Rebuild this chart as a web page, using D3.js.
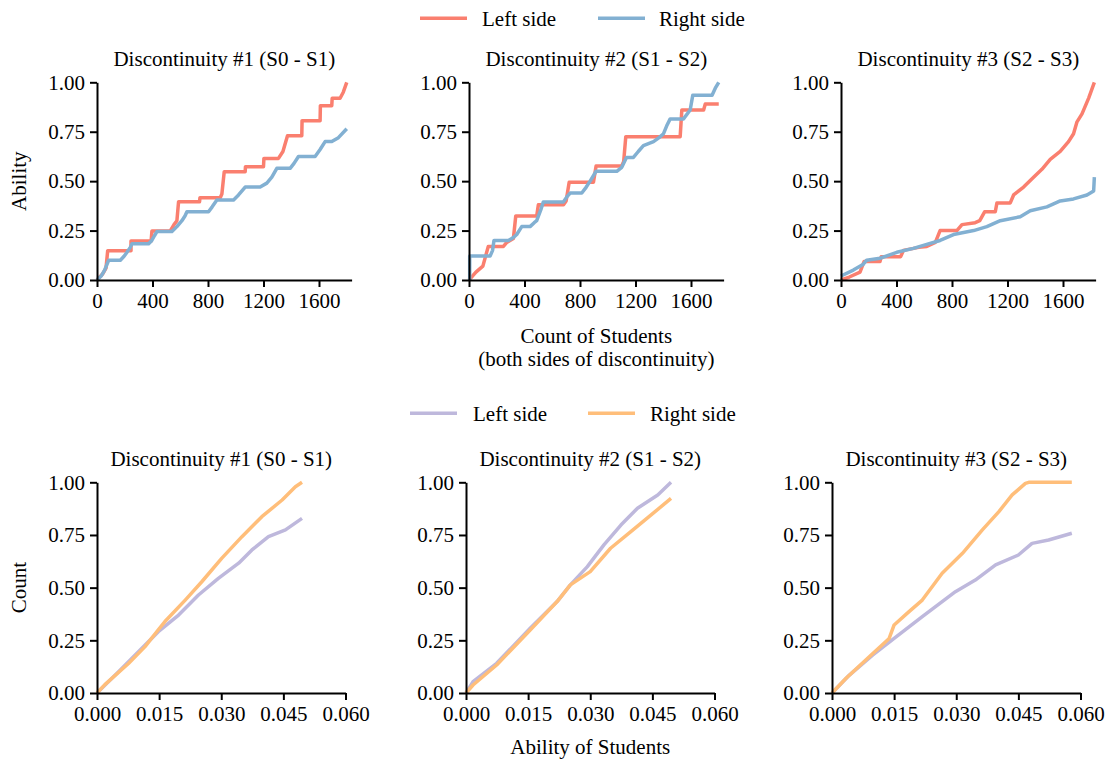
<!DOCTYPE html>
<html>
<head>
<meta charset="utf-8">
<script src="https://cdn.jsdelivr.net/npm/d3@7"></script>
<style>
  body { margin: 0; background: #fff; }
  svg text { font-family: 'Liberation Serif', 'Times New Roman', Times, serif; font-size: 21px; fill: #000; }
</style>
</head>
<body>
<svg id="chart" width="1109" height="762"></svg>
<script>
// panel titles and legend labels
const titles = ['Discontinuity #1 (S0 - S1)', 'Discontinuity #2 (S1 - S2)', 'Discontinuity #3 (S2 - S3)'];
const seriesNames = ['Left side', 'Right side'];

// top row: [count of students, ability]
const top1Left = [[0, 0], [40, 0.03], [65, 0.06], [77, 0.148], [245, 0.148], [245, 0.197], [390, 0.197], [396, 0.248], [528, 0.248], [555, 0.28], [576, 0.30], [588, 0.396], [739, 0.396], [742, 0.416], [888, 0.416], [900, 0.435], [917, 0.548], [1068, 0.548], [1070, 0.573], [1200, 0.573], [1203, 0.615], [1308, 0.615], [1340, 0.65], [1373, 0.73], [1476, 0.73], [1478, 0.806], [1608, 0.806], [1610, 0.882], [1692, 0.882], [1695, 0.919], [1752, 0.919], [1775, 0.95], [1800, 1.0]];
const top1Right = [[0, 0], [30, 0.02], [55, 0.05], [84, 0.10], [168, 0.10], [195, 0.12], [216, 0.14], [240, 0.165], [252, 0.183], [372, 0.183], [395, 0.2], [415, 0.225], [432, 0.245], [540, 0.245], [576, 0.27], [612, 0.30], [635, 0.325], [648, 0.345], [804, 0.345], [830, 0.37], [864, 0.405], [984, 0.405], [1020, 0.43], [1068, 0.47], [1176, 0.47], [1224, 0.49], [1260, 0.52], [1296, 0.565], [1392, 0.565], [1420, 0.59], [1452, 0.625], [1572, 0.625], [1608, 0.66], [1644, 0.70], [1692, 0.70], [1740, 0.72], [1800, 0.765]];
const top2Left = [[0, 0], [50, 0.04], [100, 0.07], [139, 0.17], [248, 0.17], [272, 0.19], [320, 0.21], [337, 0.324], [488, 0.324], [500, 0.38], [681, 0.38], [700, 0.40], [722, 0.494], [897, 0.494], [916, 0.577], [1101, 0.577], [1115, 0.60], [1130, 0.725], [1522, 0.725], [1534, 0.86], [1691, 0.86], [1703, 0.89], [1800, 0.89]];
const top2Right = [[5, 0], [5, 0.121], [152, 0.121], [170, 0.15], [180, 0.20], [284, 0.20], [320, 0.215], [344, 0.23], [380, 0.27], [440, 0.27], [470, 0.29], [488, 0.30], [520, 0.36], [536, 0.395], [680, 0.395], [705, 0.42], [729, 0.44], [813, 0.44], [845, 0.47], [873, 0.50], [916, 0.55], [1065, 0.55], [1101, 0.57], [1135, 0.62], [1185, 0.62], [1220, 0.65], [1257, 0.68], [1330, 0.70], [1370, 0.72], [1402, 0.74], [1425, 0.78], [1450, 0.815], [1546, 0.815], [1594, 0.86], [1613, 0.935], [1752, 0.935], [1775, 0.97], [1800, 1.0]];
const top3Left = [[0, 0], [60, 0.015], [137, 0.04], [166, 0.093], [281, 0.093], [290, 0.118], [430, 0.118], [450, 0.15], [560, 0.165], [618, 0.17], [680, 0.19], [714, 0.25], [835, 0.25], [872, 0.28], [967, 0.29], [1000, 0.30], [1035, 0.345], [1112, 0.345], [1124, 0.39], [1220, 0.39], [1244, 0.43], [1316, 0.47], [1388, 0.52], [1448, 0.56], [1508, 0.61], [1580, 0.65], [1640, 0.70], [1676, 0.74], [1701, 0.80], [1737, 0.84], [1785, 0.92], [1826, 1.0]];
const top3Right = [[0, 0.02], [89, 0.05], [161, 0.08], [185, 0.10], [281, 0.11], [402, 0.14], [522, 0.16], [618, 0.18], [714, 0.20], [811, 0.23], [956, 0.25], [1051, 0.27], [1148, 0.30], [1292, 0.32], [1364, 0.35], [1484, 0.37], [1580, 0.40], [1676, 0.41], [1773, 0.43], [1821, 0.45], [1826, 0.52]];

// bottom row: [ability of students, count]
const bot1Left = [[0, 0], [0.0052, 0.101], [0.010, 0.196], [0.0148, 0.291], [0.0197, 0.37], [0.0245, 0.465], [0.0293, 0.544], [0.0342, 0.616], [0.0374, 0.679], [0.0414, 0.742], [0.0455, 0.774], [0.0495, 0.829]];
const bot1Right = [[0, 0], [0.0019, 0.04], [0.0076, 0.14], [0.0116, 0.22], [0.0148, 0.30], [0.0164, 0.339], [0.0213, 0.441], [0.0253, 0.528], [0.0301, 0.639], [0.035, 0.742], [0.0398, 0.837], [0.0447, 0.916], [0.0479, 0.979], [0.0495, 1.0]];
const bot2Left = [[0, 0], [0.0017, 0.054], [0.0074, 0.141], [0.0155, 0.307], [0.022, 0.434], [0.0252, 0.513], [0.0293, 0.60], [0.0333, 0.703], [0.0374, 0.797], [0.0414, 0.877], [0.0463, 0.94], [0.0495, 1.0]];
const bot2Right = [[0, 0], [0.0017, 0.038], [0.0074, 0.133], [0.0155, 0.299], [0.022, 0.434], [0.0252, 0.513], [0.030, 0.576], [0.0349, 0.687], [0.0398, 0.766], [0.0447, 0.845], [0.0495, 0.924]];
const bot3Left = [[0, 0], [0.0042, 0.085], [0.0098, 0.18], [0.015, 0.259], [0.0218, 0.362], [0.0298, 0.481], [0.0346, 0.536], [0.0395, 0.608], [0.045, 0.655], [0.0483, 0.71], [0.0523, 0.726], [0.0579, 0.758]];
const bot3Right = [[0, 0], [0.0034, 0.07], [0.009, 0.172], [0.0138, 0.259], [0.015, 0.323], [0.0186, 0.386], [0.0218, 0.441], [0.0266, 0.568], [0.0315, 0.663], [0.0363, 0.774], [0.0403, 0.861], [0.0435, 0.94], [0.0467, 0.995], [0.0475, 1.0], [0.0579, 1.0]];

// ticks
const yTicks = [0, 0.25, 0.5, 0.75, 1];
const topXTicks = [0, 400, 800, 1200, 1600];
const botXTicks = [0, 0.015, 0.03, 0.045, 0.06];

const svg = d3.select('#chart');

const topColors = ['#FA7F6F', '#82B0D2'];
const botColors = ['#BEB8DC', '#FFBE7A'];

const topRow = {
  lefts: [97, 469, 841], width: 254.6, top: 82.3, bottom: 280, titleY: 66,
  xDomain: [0, 1835], xTicks: topXTicks, xFormat: d3.format('d'),
  series: [[top1Left, top1Right], [top2Left, top2Right], [top3Left, top3Right]],
  colors: topColors,
};
const botRow = {
  lefts: [97, 466, 832], width: 248.5, top: 482.3, bottom: 693, titleY: 466,
  xDomain: [0, 0.06], xTicks: botXTicks, xFormat: d3.format('.3f'),
  series: [[bot1Left, bot1Right], [bot2Left, bot2Right], [bot3Left, bot3Right]],
  colors: botColors,
};

function drawRow(row) {
  row.lefts.forEach((left, i) => {
    const x = d3.scaleLinear().domain(row.xDomain).range([left, left + row.width]);
    const y = d3.scaleLinear().domain([0, 1]).range([row.bottom, row.top]);
    const g = svg.append('g');

    g.append('text')
      .attr('x', left + row.width / 2)
      .attr('y', row.titleY)
      .attr('text-anchor', 'middle')
      .text(titles[i]);

    const line = d3.line()
      .x((d) => x(d[0]))
      .y((d) => y(d[1]));

    row.series[i].forEach((s, k) => {
      g.append('path')
        .datum(s)
        .attr('d', line)
        .attr('fill', 'none')
        .attr('stroke', row.colors[k])
        .attr('stroke-width', 3.5)
        .attr('stroke-linejoin', 'round');
    });

    const xAxis = g.append('g')
      .attr('transform', `translate(0, ${row.bottom})`)
      .call(d3.axisBottom(x).tickValues(row.xTicks).tickFormat(row.xFormat)
        .tickSize(7).tickSizeOuter(0).tickPadding(6));
    const yAxis = g.append('g')
      .attr('transform', `translate(${left}, 0)`)
      .call(d3.axisLeft(y).tickValues(yTicks).tickFormat(d3.format('.2f'))
        .tickSize(7).tickSizeOuter(0).tickPadding(5));

    [xAxis, yAxis].forEach((a) => {
      a.attr('font-family', null).attr('font-size', null);
      a.select('.domain').attr('stroke', '#000').attr('stroke-width', 2);
      a.selectAll('.tick line').attr('stroke', '#000').attr('stroke-width', 2);
    });
  });
}

drawRow(topRow);
drawRow(botRow);

// legends
function drawLegend(colors, lineX, textX, lineY) {
  const lg = svg.append('g');
  seriesNames.forEach((name, i) => {
    lg.append('line')
      .attr('x1', lineX[i]).attr('x2', lineX[i] + 47)
      .attr('y1', lineY).attr('y2', lineY)
      .attr('stroke', colors[i])
      .attr('stroke-width', 3.5);
    lg.append('text')
      .attr('x', textX[i])
      .attr('y', lineY + 7.5)
      .text(name);
  });
}
drawLegend(topColors, [420, 598], [482, 659], 18.3);
drawLegend(botColors, [410, 588], [473, 650], 413.3);

// axis labels
svg.append('text')
  .attr('transform', `translate(26, ${(82.3 + 280) / 2}) rotate(-90)`)
  .attr('text-anchor', 'middle')
  .text('Ability');
svg.append('text')
  .attr('transform', `translate(26, ${(482.3 + 693) / 2}) rotate(-90)`)
  .attr('text-anchor', 'middle')
  .text('Count');
svg.append('text')
  .attr('x', 469 + 254.6 / 2)
  .attr('y', 343)
  .attr('text-anchor', 'middle')
  .text('Count of Students');
svg.append('text')
  .attr('x', 469 + 254.6 / 2)
  .attr('y', 366)
  .attr('text-anchor', 'middle')
  .text('(both sides of discontinuity)');
svg.append('text')
  .attr('x', 466 + 248.5 / 2)
  .attr('y', 754)
  .attr('text-anchor', 'middle')
  .text('Ability of Students');
</script>
</body>
</html>
